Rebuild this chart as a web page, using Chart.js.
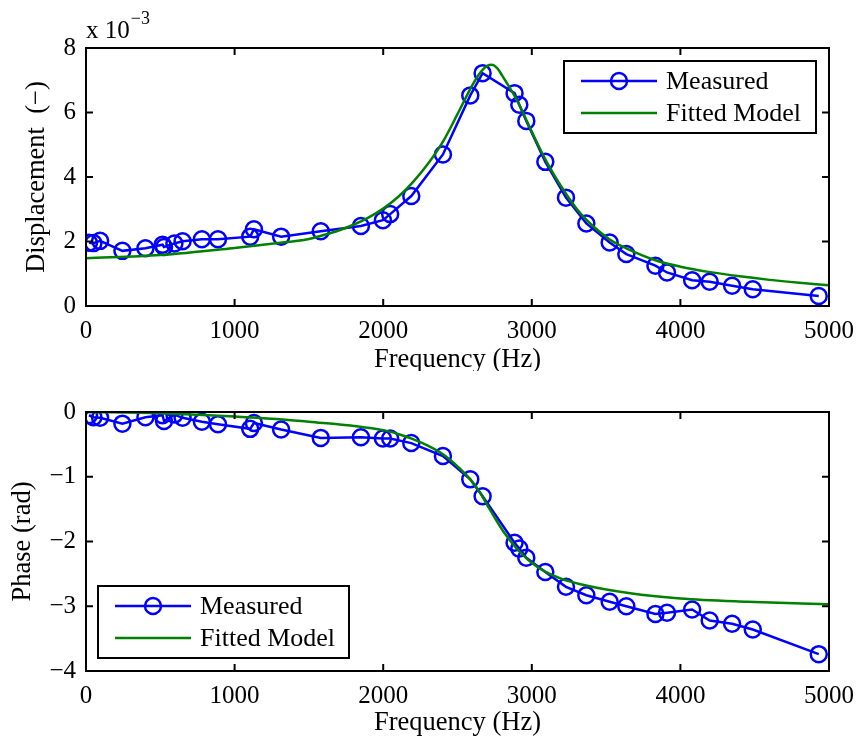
<!DOCTYPE html>
<html>
<head>
<meta charset="utf-8">
<script src="https://cdn.jsdelivr.net/npm/chart.js@4.4.1/dist/chart.umd.min.js"></script>
<style>
  html, body { margin: 0; padding: 0; background: #fff; }
  #wrap { position: relative; width: 860px; height: 742px; }
  canvas { position: absolute; left: 0; }
</style>
</head>
<body>
<div id="wrap">
  <canvas id="c1" width="860" height="371" style="top:0"></canvas>
  <canvas id="c2" width="860" height="371" style="top:371px"></canvas>
</div>
<script>
// ---------- DATA ----------
const measFreq = [20, 50, 95, 245, 400, 515, 525, 595, 650, 780, 888, 1105, 1130, 1313, 1580, 1850, 1998, 2047, 2189, 2402, 2586, 2669, 2884, 2916, 2963, 3091, 3230, 3367, 3524, 3636, 3832, 3910, 4079, 4197, 4348, 4487, 4931];
// displacement in units of 1e-3
const measDisp = [1.96, 1.95, 2.02, 1.71, 1.79, 1.90, 1.83, 1.94, 2.01, 2.07, 2.07, 2.15, 2.38, 2.15, 2.32, 2.48, 2.66, 2.85, 3.41, 4.70, 6.53, 7.22, 6.60, 6.24, 5.74, 4.47, 3.36, 2.56, 1.97, 1.61, 1.25, 1.04, 0.80, 0.75, 0.63, 0.52, 0.31];
const measPhase = [-0.05, -0.08, -0.09, -0.18, -0.08, -0.05, -0.14, -0.04, -0.09, -0.15, -0.19, -0.26, -0.17, -0.27, -0.40, -0.39, -0.41, -0.41, -0.48, -0.68, -1.04, -1.30, -2.02, -2.11, -2.25, -2.47, -2.70, -2.83, -2.93, -3.00, -3.12, -3.10, -3.05, -3.22, -3.27, -3.36, -3.74];

const fitDispFreq = [0, 500, 1000, 1250, 1500, 1600, 1700, 1800, 1900, 2000, 2100, 2200, 2300, 2400, 2500, 2600, 2650, 2700, 2730, 2770, 2800, 2900, 3000, 3100, 3200, 3327, 3524, 3636, 3832, 4000, 4200, 4400, 4600, 4800, 5000];
const fitDisp = [1.48, 1.58, 1.80, 1.93, 2.08, 2.20, 2.34, 2.52, 2.74, 3.02, 3.38, 3.84, 4.40, 5.08, 5.95, 6.85, 7.22, 7.45, 7.48, 7.36, 7.15, 6.38, 5.40, 4.47, 3.69, 2.87, 2.06, 1.79, 1.42, 1.22, 1.05, 0.92, 0.81, 0.72, 0.64];

const fitPhaseFreq = [0, 500, 1000, 1500, 2000, 2100, 2200, 2300, 2400, 2500, 2586, 2650, 2721, 2810, 2911, 3035, 3192, 3327, 3663, 4000, 4449, 5000];
const fitPhase = [0, -0.02, -0.07, -0.15, -0.28, -0.34, -0.42, -0.52, -0.65, -0.84, -1.04, -1.24, -1.52, -1.85, -2.14, -2.39, -2.57, -2.66, -2.80, -2.88, -2.93, -2.97];

const xTicks = [0, 1000, 2000, 3000, 4000, 5000];
const dispTicks = [0, 2, 4, 6, 8];
const phaseTicks = [-4, -3, -2, -1, 0];
const seriesNames = ['Measured', 'Fitted Model'];

// ---------- STYLE ----------
const FONT = "'Liberation Serif', 'Times New Roman', serif";
const BLUE = '#0000ff';
const GREEN = '#008000';

function pts(xs, ys) { return xs.map((x, i) => ({ x: x, y: ys[i] })); }
function fmt(v) { return v < 0 ? '\u2212' + Math.abs(v) : String(v); }

const decorPlugin = {
  id: 'decor',
  afterDraw(chart, args, opts) {
    const ctx = chart.ctx;
    const a = chart.chartArea;
    const xs = chart.scales.x, ys = chart.scales.y;
    ctx.save();
    // frame
    ctx.strokeStyle = '#000';
    ctx.lineWidth = 2;
    ctx.strokeRect(a.left, a.top, a.right - a.left, a.bottom - a.top);
    // inward ticks
    const TL = 7;
    ctx.beginPath();
    xs.ticks.forEach(t => {
      const p = xs.getPixelForValue(t.value);
      if (p <= a.left + 1 || p >= a.right - 1) return;
      ctx.moveTo(p, a.bottom); ctx.lineTo(p, a.bottom - TL);
      ctx.moveTo(p, a.top); ctx.lineTo(p, a.top + TL);
    });
    ys.ticks.forEach(t => {
      const p = ys.getPixelForValue(t.value);
      if (p <= a.top + 1 || p >= a.bottom - 1) return;
      ctx.moveTo(a.left, p); ctx.lineTo(a.left + TL, p);
      ctx.moveTo(a.right, p); ctx.lineTo(a.right - TL, p);
    });
    ctx.stroke();

    // axis titles
    ctx.fillStyle = '#000';
    ctx.font = '26.5px ' + FONT;
    ctx.textAlign = 'center';
    ctx.textBaseline = 'middle';
    ctx.fillText(opts.xTitle, (a.left + a.right) / 2, opts.xTitleY);
    ctx.save();
    ctx.translate(opts.yTitleX, (a.top + a.bottom) / 2);
    ctx.rotate(-Math.PI / 2);
    ctx.fillText(opts.yTitle, 0, 0);
    ctx.restore();

    // exponent
    if (opts.exponent) {
      ctx.textAlign = 'left';
      ctx.textBaseline = 'alphabetic';
      ctx.font = '25px ' + FONT;
      ctx.fillText('x 10', a.left, a.top - 10);
      const w = ctx.measureText('x 10').width;
      ctx.font = '18px ' + FONT;
      ctx.fillText(opts.exponent, a.left + w + 1, a.top - 24);
    }

    // legend
    const L = opts.legend;
    ctx.lineWidth = 2;
    ctx.strokeStyle = '#000';
    ctx.fillStyle = '#fff';
    ctx.fillRect(L.x, L.y, L.w, L.h);
    ctx.strokeRect(L.x, L.y, L.w, L.h);
    const ds = chart.data.datasets;
    ds.forEach((d, i) => {
      const yy = L.y + L.row0 + i * L.rowH;
      ctx.strokeStyle = d.borderColor;
      ctx.lineWidth = d.borderWidth;
      ctx.beginPath();
      ctx.moveTo(L.x + 17, yy); ctx.lineTo(L.x + 93, yy);
      ctx.stroke();
      if (d.pointRadius > 0) {
        ctx.beginPath();
        ctx.lineWidth = d.pointBorderWidth;
        ctx.strokeStyle = d.pointBorderColor;
        ctx.arc(L.x + 55, yy, d.pointRadius, 0, Math.PI * 2);
        ctx.stroke();
      }
      ctx.fillStyle = '#000';
      ctx.font = '26px ' + FONT;
      ctx.textAlign = 'left';
      ctx.textBaseline = 'middle';
      ctx.fillText(d.label, L.x + 102, yy + 1);
    });
    ctx.restore();
  }
};

function makeChart(id, ySeries, fitX, fitY, yTicks, padTop, xAxisH, decor) {
  return new Chart(document.getElementById(id), {
    type: 'scatter',
    data: {
      datasets: [
        {
          label: seriesNames[0],
          data: pts(measFreq, ySeries),
          showLine: true,
          borderColor: BLUE,
          borderWidth: 2.5,
          pointRadius: 8,
          pointHoverRadius: 8,
          pointBorderWidth: 2.5,
          pointBorderColor: BLUE,
          pointBackgroundColor: 'rgba(0,0,0,0)',
          tension: 0,
          order: 1
        },
        {
          label: seriesNames[1],
          data: pts(fitX, fitY),
          showLine: true,
          borderColor: GREEN,
          borderWidth: 2.5,
          pointRadius: 0,
          pointHoverRadius: 0,
          pointBorderWidth: 0,
          pointBorderColor: GREEN,
          cubicInterpolationMode: 'monotone',
          order: 0
        }
      ]
    },
    options: {
      responsive: false,
      animation: false,
      events: [],
      layout: { padding: { top: padTop, right: 31, left: 0, bottom: 0 } },
      plugins: { legend: { display: false }, tooltip: { enabled: false }, decor: decor },
      scales: {
        x: {
          type: 'linear',
          min: xTicks[0], max: xTicks[xTicks.length - 1],
          afterBuildTicks: s => { s.ticks = xTicks.map(v => ({ value: v })); },
          afterFit: s => { s.height = xAxisH; s.paddingLeft = 0; s.paddingRight = 0; },
          grid: { display: false, drawTicks: false },
          border: { display: false },
          ticks: { color: '#000', font: { family: FONT, size: 25 }, padding: 10, maxRotation: 0, autoSkip: false, callback: v => fmt(v) }
        },
        y: {
          type: 'linear',
          min: yTicks[0], max: yTicks[yTicks.length - 1],
          afterBuildTicks: s => { s.ticks = yTicks.map(v => ({ value: v })); },
          afterFit: s => { s.width = 86; s.paddingTop = 0; s.paddingBottom = 0; },
          grid: { display: false, drawTicks: false },
          border: { display: false },
          ticks: { color: '#000', font: { family: FONT, size: 25 }, padding: 10, autoSkip: false, callback: v => fmt(v) }
        }
      }
    },
    plugins: [decorPlugin]
  });
}

makeChart('c1', measDisp, fitDispFreq, fitDisp, dispTicks, 48, 65, {
  xTitle: 'Frequency (Hz)', xTitleY: 360,
  yTitle: 'Displacement  (\u2212)', yTitleX: 37,
  exponent: '\u22123',
  legend: { x: 564, y: 61, w: 252, h: 72, row0: 20, rowH: 32 }
});
makeChart('c2', measPhase, fitPhaseFreq, fitPhase, phaseTicks, 41, 71, {
  xTitle: 'Frequency (Hz)', xTitleY: 352,
  yTitle: 'Phase (rad)', yTitleX: 23,
  exponent: null,
  legend: { x: 98, y: 586 - 371, w: 251, h: 72, row0: 20, rowH: 32 }
});
</script>
</body>
</html>
